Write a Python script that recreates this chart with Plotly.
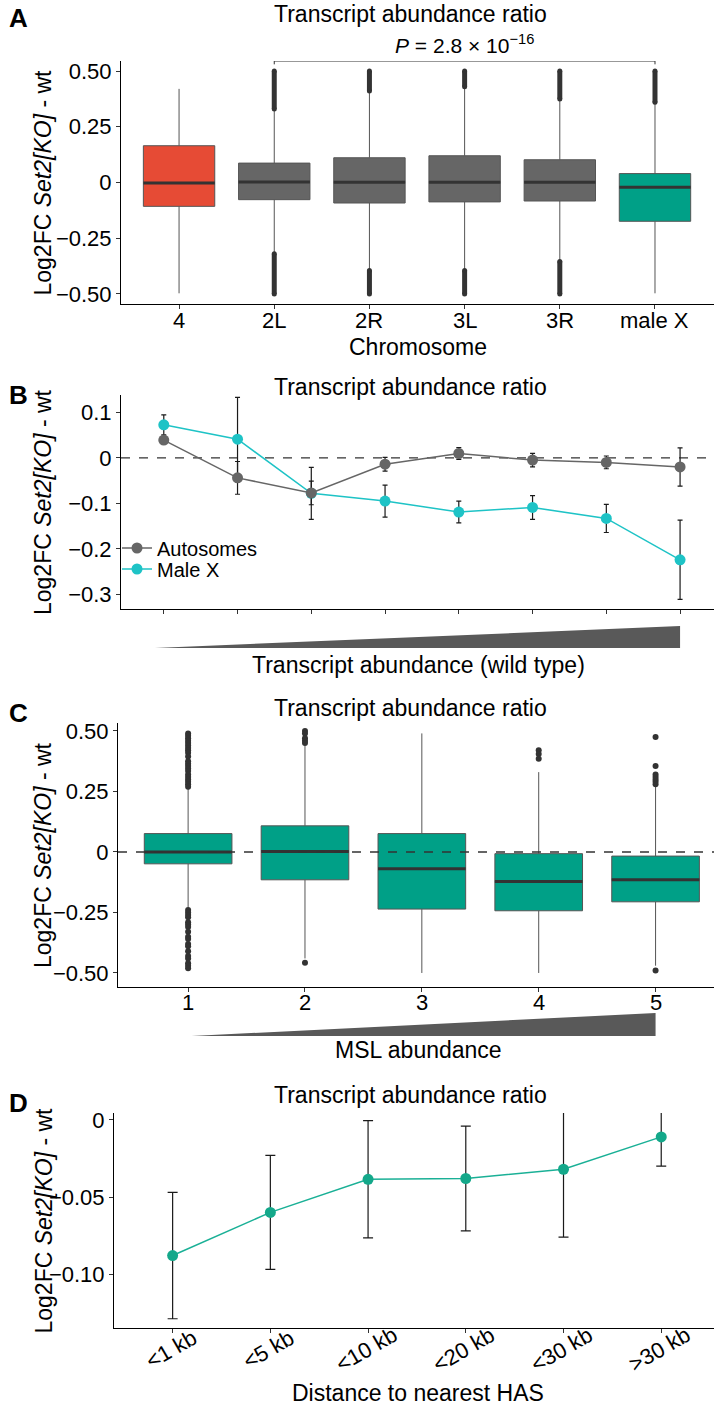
import plotly.graph_objects as go

W, H = 720, 1405
FONT = "Liberation Sans, Arial, sans-serif"
FS = 22      # tick labels
FT = 23      # titles

# ---------------- Panel A data ----------------
chrom = ["4", "2L", "2R", "3L", "3R", "male X"]
a_q1 = [-0.107, -0.077, -0.092, -0.087, -0.083, -0.174]
a_med = [-0.002, 0.002, 0.001, 0.001, 0.001, -0.021]
a_q3 = [0.165, 0.087, 0.111, 0.120, 0.102, 0.040]
a_lofence = [-0.497, -0.317, -0.395, -0.395, -0.354, -0.497]
a_hifence = [0.42, 0.33, 0.41, 0.43, 0.375, 0.36]
# dense outlier strips (start, end) per chromosome; None = no outliers
a_out_hi = [None, (0.33, 0.50), (0.41, 0.50), (0.43, 0.50), (0.375, 0.50), (0.36, 0.50)]
a_out_lo = [None, (-0.32, -0.50), (-0.395, -0.50), (-0.395, -0.50), (-0.354, -0.50), None]
a_colors = ["#E64B35", "#666666", "#666666", "#666666", "#666666", "#00A087"]
p_text = "<i>P</i> = 2.8 × 10<sup>−16</sup>"

# ---------------- Panel B data ----------------
bins = [1, 2, 3, 4, 5, 6, 7, 8]
auto_y = [0.039, -0.044, -0.077, -0.014, 0.0095, -0.005, -0.010, -0.020]
auto_err = [0.004, 0.036, 0.026, 0.015, 0.013, 0.015, 0.014, 0.042]
malex_y = [0.0725, 0.041, -0.078, -0.095, -0.119, -0.109, -0.133, -0.224]
malex_err = [0.022, 0.092, 0.057, 0.035, 0.024, 0.026, 0.031, 0.087]

# ---------------- Panel C data ----------------
msl = [1, 2, 3, 4, 5]
c_q1 = [-0.049, -0.115, -0.236, -0.243, -0.206]
c_med = [0.0, 0.002, -0.069, -0.122, -0.115]
c_q3 = [0.076, 0.108, 0.076, -0.007, -0.017]
c_lofence = [-0.23, -0.44, -0.50, -0.50, -0.47]
c_hifence = [0.26, 0.44, 0.49, 0.33, 0.27]
c_outliers = [
    [0.49, 0.48, 0.47, 0.46, 0.45, 0.44, 0.43, 0.42, 0.41, 0.395, 0.375, 0.365,
     0.355, 0.345, 0.335, 0.32, 0.31, 0.30, 0.29, 0.28, 0.27,
     -0.24, -0.25, -0.26, -0.27, -0.29, -0.30, -0.31, -0.33, -0.35, -0.36,
     -0.38, -0.39, -0.41, -0.43, -0.44, -0.46, -0.47, -0.48],
    [0.50, 0.49, 0.47, 0.46, 0.45, -0.458],
    [],
    [0.42, 0.405, 0.385],
    [0.475, 0.355, 0.32, 0.31, 0.30, 0.29, 0.28, -0.49],
]

# ---------------- Panel D data ----------------
dist = ["<1 kb", "<5 kb", "<10 kb", "<20 kb", "<30 kb", ">30 kb"]
d_y = [-0.088, -0.060, -0.0385, -0.038, -0.032, -0.011]
d_err = [0.041, 0.037, 0.038, 0.034, 0.044, 0.019]

BOXW = 0.75
fig = go.Figure()

# ---- Panel A ----
for i, c in enumerate(chrom):
    fig.add_trace(go.Box(
        x=[i], q1=[a_q1[i]], median=[a_med[i]], q3=[a_q3[i]],
        lowerfence=[a_lofence[i]], upperfence=[a_hifence[i]],
        width=BOXW, whiskerwidth=0, boxpoints=False,
        fillcolor=a_colors[i], line=dict(color="#555555", width=1),
        xaxis="x", yaxis="y", showlegend=False, hoverinfo="skip"))
    fig.add_trace(go.Scatter(
        x=[i - BOXW / 2, i + BOXW / 2], y=[a_med[i], a_med[i]], mode="lines",
        line=dict(color="#333333", width=3), xaxis="x", yaxis="y",
        showlegend=False, hoverinfo="skip"))
    for rng in (a_out_hi[i], a_out_lo[i]):
        if rng is not None:
            fig.add_trace(go.Scatter(
                x=[i, i], y=list(rng), mode="lines+markers",
                line=dict(color="#333333", width=5),
                marker=dict(color="#333333", size=5),
                xaxis="x", yaxis="y", showlegend=False, hoverinfo="skip"))

# ---- Panel B ----
CYAN = "#1EC3C6"
GRAY = "#666666"
fig.add_trace(go.Scatter(
    x=bins, y=malex_y, mode="lines+markers", name="Male X",
    line=dict(color=CYAN, width=1.5), marker=dict(color=CYAN, size=11),
    error_y=dict(type="data", array=malex_err, color="#1a1a1a", thickness=1.2, width=2.5),
    xaxis="x2", yaxis="y2", legend="legend2"))
fig.add_trace(go.Scatter(
    x=bins, y=auto_y, mode="lines+markers", name="Autosomes",
    line=dict(color=GRAY, width=1.5), marker=dict(color=GRAY, size=11),
    error_y=dict(type="data", array=auto_err, color="#1a1a1a", thickness=1.2, width=2.5),
    xaxis="x2", yaxis="y2", legend="legend"))

# ---- Panel C ----
TEAL = "#00A087"
for i, m in enumerate(msl):
    fig.add_trace(go.Box(
        x=[m], q1=[c_q1[i]], median=[c_med[i]], q3=[c_q3[i]],
        lowerfence=[c_lofence[i]], upperfence=[c_hifence[i]],
        width=BOXW, whiskerwidth=0, boxpoints=False,
        fillcolor=TEAL, line=dict(color="#555555", width=1),
        xaxis="x3", yaxis="y3", showlegend=False, hoverinfo="skip"))
    fig.add_trace(go.Scatter(
        x=[m - BOXW / 2, m + BOXW / 2], y=[c_med[i], c_med[i]], mode="lines",
        line=dict(color="#333333", width=3), xaxis="x3", yaxis="y3",
        showlegend=False, hoverinfo="skip"))
    if c_outliers[i]:
        fig.add_trace(go.Scatter(
            x=[m] * len(c_outliers[i]), y=c_outliers[i], mode="markers",
            marker=dict(color="#333333", size=6),
            xaxis="x3", yaxis="y3", showlegend=False, hoverinfo="skip"))

# ---- Panel D ----
DTEAL = "#14A88A"
fig.add_trace(go.Scatter(
    x=list(range(len(dist))), y=d_y, mode="lines+markers",
    line=dict(color="#1AB096", width=1.5), marker=dict(color=DTEAL, size=11),
    error_y=dict(type="data", array=d_err, color="#1a1a1a", thickness=1.2, width=5),
    xaxis="x4", yaxis="y4", showlegend=False, cliponaxis=False))


def px2y(p):
    return 1 - p / H


def px2x(p):
    return p / W


axis_common = dict(showline=True, linecolor="black", linewidth=1, ticks="outside",
                   ticklen=4, tickcolor="#333333", showgrid=False, zeroline=False,
                   automargin=False,
                   tickfont=dict(family=FONT, size=FS, color="black"))

leg_common = dict(xanchor="left", yanchor="middle", bgcolor="rgba(0,0,0,0)",
                  font=dict(family=FONT, size=20, color="black"), itemwidth=30,
                  borderwidth=0)

layout = dict(
    width=W, height=H, margin=dict(l=0, r=0, t=0, b=0, autoexpand=False),
    paper_bgcolor="white", plot_bgcolor="white",
    font=dict(family=FONT, size=FS, color="black"),
    xaxis=dict(domain=[px2x(121), px2x(714)], range=[-0.61, 5.62], anchor="y",
               tickvals=list(range(len(chrom))), showticklabels=False, **axis_common),
    yaxis=dict(domain=[px2y(304), px2y(61)], range=[-0.545, 0.545], anchor="x",
               tickvals=[-0.5, -0.25, 0, 0.25, 0.5],
               ticktext=["−0.50", "−0.25", "0", "0.25", "0.50"], **axis_common),
    xaxis2=dict(domain=[px2x(121), px2x(714)], range=[0.42, 8.46], anchor="y2",
                tickvals=bins, showticklabels=False, **axis_common),
    yaxis2=dict(domain=[px2y(609), px2y(395)], range=[-0.332, 0.138], anchor="x2",
                tickvals=[-0.3, -0.2, -0.1, 0, 0.1],
                ticktext=["−0.3", "−0.2", "−0.1", "0", "0.1"], **axis_common),
    xaxis3=dict(domain=[px2x(118), px2x(714)], range=[0.40, 5.50], anchor="y3",
                tickvals=msl, showticklabels=False, **axis_common),
    yaxis3=dict(domain=[px2y(987), px2y(723)], range=[-0.558, 0.533], anchor="x3",
                tickvals=[-0.5, -0.25, 0, 0.25, 0.5],
                ticktext=["−0.50", "−0.25", "0", "0.25", "0.50"], **axis_common),
    xaxis4=dict(domain=[px2x(114), px2x(714)], range=[-0.6, 5.54], anchor="y4",
                tickvals=list(range(len(dist))), showticklabels=False,
                **axis_common),
    yaxis4=dict(domain=[px2y(1328), px2y(1113)], range=[-0.135, 0.0045], anchor="x4",
                tickvals=[-0.10, -0.05, 0], ticktext=["−0.10", "−0.05", "0"],
                **axis_common),
    legend=dict(x=px2x(117), y=px2y(548), **leg_common),
    legend2=dict(x=px2x(117), y=px2y(569), **leg_common),
)
fig.update_layout(**layout)

annos = []
ytitle = "Log2FC <i>Set2[KO]</i> - wt"
panels = [("A", 18, 61, 304), ("B", 395, 395, 609), ("C", 713, 723, 987), ("D", 1103, 1113, 1328)]
for lab, ly, top, bot in panels:
    annos.append(dict(text="<b>%s</b>" % lab, x=px2x(18), y=px2y(ly), xref="paper", yref="paper",
                      showarrow=False, font=dict(size=26, family=FONT), xanchor="center", yanchor="middle"))
    annos.append(dict(text=ytitle, x=px2x(43), y=px2y((top + bot) / 2), xref="paper", yref="paper",
                      showarrow=False, textangle=-90, font=dict(size=FT, family=FONT),
                      xanchor="center", yanchor="middle"))
for ty in (14, 387, 708, 1095):
    annos.append(dict(text="Transcript abundance ratio", x=px2x(410), y=px2y(ty), xref="paper",
                      yref="paper", showarrow=False, font=dict(size=FT, family=FONT),
                      xanchor="center", yanchor="middle"))
for txt, ty in (("Chromosome", 347), ("Transcript abundance (wild type)", 665),
                ("MSL abundance", 1050), ("Distance to nearest HAS", 1393)):
    annos.append(dict(text=txt, x=px2x(418), y=px2y(ty), xref="paper", yref="paper",
                      showarrow=False, font=dict(size=FT, family=FONT),
                      xanchor="center", yanchor="middle"))
annos.append(dict(text=p_text, x=3, xref="x", y=px2y(44), yref="paper", showarrow=False,
                  font=dict(size=21, family=FONT), xanchor="center", yanchor="middle"))
# category labels of panel A
for i, lab in enumerate(chrom):
    annos.append(dict(text=lab, x=i, xref="x", y=px2y(321), yref="paper", showarrow=False,
                      font=dict(size=FS, family=FONT), xanchor="center", yanchor="middle"))
# category labels of panel C
for m in msl:
    annos.append(dict(text=str(m), x=m, xref="x3", y=px2y(1002), yref="paper", showarrow=False,
                      font=dict(size=FS, family=FONT), xanchor="center", yanchor="middle"))
# rotated category labels of panel D
for i, lab in enumerate(dist):
    annos.append(dict(text=lab, x=i, xref="x4", y=px2y(1349), yref="paper", showarrow=False,
                      textangle=-30, xshift=-2, font=dict(size=FS, family=FONT),
                      xanchor="center", yanchor="middle"))
fig.update_layout(annotations=annos)

shapes = [
    dict(type="path", xref="x", yref="y", path="M 1,0.53 L 1,0.545 L 5,0.545 L 5,0.53",
         line=dict(color="#333333", width=1)),
    dict(type="line", xref="x2 domain", yref="y2", x0=0, x1=1, y0=0, y1=0,
         line=dict(color="#333333", width=1.3, dash="dash"), layer="below"),
    dict(type="line", xref="x3 domain", yref="y3", x0=0, x1=1, y0=0, y1=0,
         line=dict(color="#333333", width=1.3, dash="dash"), layer="above"),
    dict(type="path", xref="x2", yref="paper",
         path="M 0.88,%f L 8,%f L 8,%f Z" % (px2y(648), px2y(648), px2y(626)),
         fillcolor="#595959", line=dict(width=0)),
    dict(type="path", xref="x3", yref="paper",
         path="M 1.03,%f L 5,%f L 5,%f Z" % (px2y(1036), px2y(1036), px2y(1013)),
         fillcolor="#595959", line=dict(width=0)),
]
fig.update_layout(shapes=shapes)

fig.write_html("out.html", config={"displayModeBar": False},
               post_script="document.body.style.margin='0';document.body.style.overflow='hidden';")
